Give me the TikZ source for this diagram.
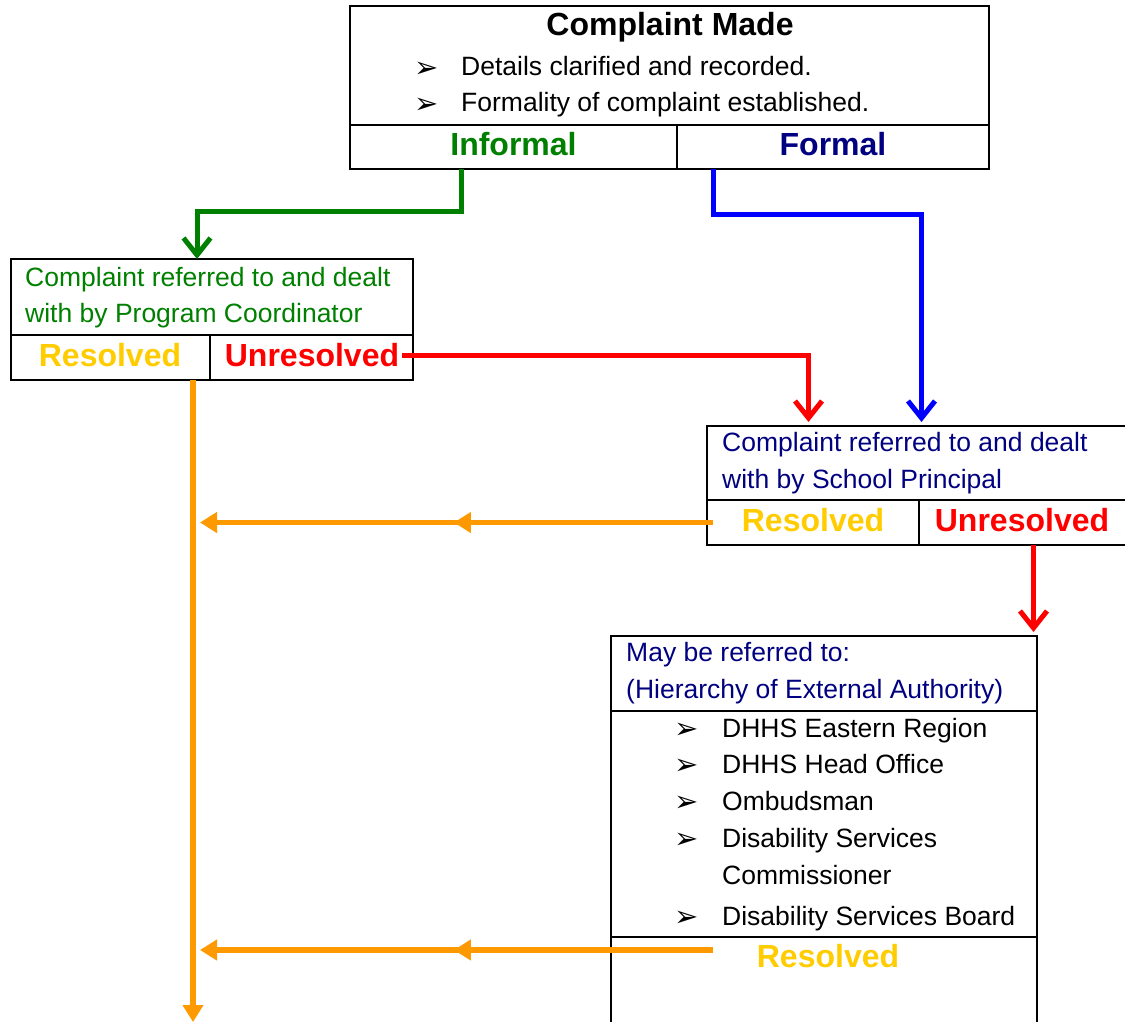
\documentclass[tikz,border=0pt]{standalone}
\usepackage{fontspec}
\setmainfont{Liberation Sans}
\newfontfamily\dejavu{DejaVu Sans}
\usetikzlibrary{arrows.meta,calc,decorations.markings}
\definecolor{cgreen}{RGB}{0,128,0}
\definecolor{cnavy}{RGB}{0,0,128}
\definecolor{cblue}{RGB}{0,0,255}
\definecolor{cred}{RGB}{255,0,0}
\definecolor{cgold}{RGB}{255,204,0}
\definecolor{corange}{RGB}{255,153,0}
\newcommand{\bul}{{\dejavu\fontsize{29}{29}\selectfont ➢}}
\begin{document}
\begin{tikzpicture}[x=1pt,y=-1pt,
  cell/.style={draw=black, line width=2pt, inner sep=0pt, outer sep=0pt, anchor=north west},
  txt/.style={anchor=base west, inner sep=0pt, font=\fontsize{26.5}{30}\selectfont},
  bultxt/.style={anchor=west, inner sep=0pt},
  lab/.style={anchor=base, inner sep=0pt, font=\bfseries\fontsize{32}{36}\selectfont},
  chev/.style={line width=5pt, -{Straight Barb[length=17pt,width=27pt]}},
  oline/.style={draw=corange, line width=5.5pt},
  otip/.style={-{Triangle[length=17pt,width=20pt]}},
  midtip/.style={postaction={decorate}, decoration={markings, mark=at position 0.505 with {\arrow{Triangle[length=17pt,width=20pt]}}}}
]
\useasboundingbox (0,0) rectangle (1125,1022);
\fill[white] (0,0) rectangle (1125,1022);

% top box
\node[cell, minimum width=639pt, minimum height=119pt] (top) at (350,6) {};
\node[cell, minimum width=327pt, minimum height=44pt] (inf) at (350,125) {};
\node[cell, minimum width=312pt, minimum height=44pt] (form) at (677,125) {};
\node[lab] (tt) at (670,36) {Complaint Made};
\node[bultxt] (b1) at (414,70) {\bul};
\node[txt] (t1) at (461,76) {Details clarified and recorded.};
\node[bultxt] (b2) at (414,106) {\bul};
\node[txt] (t2) at (461,112) {Formality of complaint established.};
\node[lab, text=cgreen] (tinf) at (513.5,156) {Informal};
\node[lab, text=cnavy] (tform) at (833,156) {Formal};

% program coordinator box
\node[cell, minimum width=402pt, minimum height=76pt] (pc) at (11,259) {};
\node[cell, minimum width=199pt, minimum height=45pt] (pcres) at (11,335) {};
\node[cell, minimum width=203pt, minimum height=45pt] (pcun) at (210,335) {};
\node[txt, text=cgreen] (p1) at (25,286) {Complaint referred to and dealt};
\node[txt, text=cgreen] (p2) at (25,322) {with by Program Coordinator};
\node[lab, text=cgold] (pr) at (110,366) {Resolved};
\node[lab, text=cred] (pu) at (312,366) {Unresolved};

% school principal box
\node[cell, minimum width=430pt, minimum height=74pt] (sp) at (707,426) {};
\node[cell, minimum width=212pt, minimum height=45pt] (spres) at (707,500) {};
\node[cell, minimum width=218pt, minimum height=45pt] (spun) at (919,500) {};
\node[txt, text=cnavy] (s1) at (722,451) {Complaint referred to and dealt};
\node[txt, text=cnavy] (s2) at (722,488) {with by School Principal};
\node[lab, text=cgold] (sr) at (813,531) {Resolved};
\node[lab, text=cred] (su) at (1022,531) {Unresolved};

% external box
\node[cell, minimum width=426pt, minimum height=75pt] (ext) at (611,636) {};
\node[cell, minimum width=426pt, minimum height=226pt] (extlist) at (611,711) {};
\node[cell, minimum width=426pt, minimum height=100pt] (extres) at (611,937) {};
\node[txt, text=cnavy] (e1) at (626,661) {May be referred to:};
\node[txt, text=cnavy] (e2) at (626,698) {(Hierarchy of External Authority)};
\node[bultxt] (eb1) at (674,731) {\bul};
\node[txt] (el1) at (722,737) {DHHS Eastern Region};
\node[bultxt] (eb2) at (674,767) {\bul};
\node[txt] (el2) at (722,773) {DHHS Head Office};
\node[bultxt] (eb3) at (674,804) {\bul};
\node[txt] (el3) at (722,810) {Ombudsman};
\node[bultxt] (eb4) at (674,841) {\bul};
\node[txt] (el4) at (722,847) {Disability Services};
\node[txt] (el5) at (722,884) {Commissioner};
\node[bultxt] (eb5) at (674,919) {\bul};
\node[txt] (el6) at (722,925) {Disability Services Board};
\node[lab, text=cgold] (er) at (828,967) {Resolved};

% connectors
\draw[chev, cgreen] ([xshift=-52.5pt]inf.south) -- ++(0,42) -| ([xshift=-15pt]pc.north);
\draw[chev, cblue, shorten >=4pt] ([xshift=-120pt]form.south) -- ++(0,45) -| ([xshift=-0.5pt]sp.north);
\draw[chev, cred, shorten >=4pt] ([xshift=-11pt,yshift=2pt]pcun.east) -| ([xshift=-113.5pt]sp.north);
\draw[chev, cred, shorten >=4pt] ([xshift=5.5pt]spun.south) -- ([xshift=5.5pt]spun.south |- ext.north);

\coordinate (ov) at ([xshift=82.5pt]pcres.south);
\coordinate (obot) at (ov |- 0,1022);
\draw[oline, otip] (ov) -- (obot);
\coordinate (o1s) at ($(spres.west)+(6,0)$);
\draw[oline, otip, midtip] (o1s) -- ($(ov |- o1s)+(7,0)$);
\coordinate (o2s) at ($(extres.north west)+(102,13)$);
\draw[oline, otip, midtip] (o2s) -- ($(ov |- o2s)+(7,0)$);
\end{tikzpicture}
\end{document}
